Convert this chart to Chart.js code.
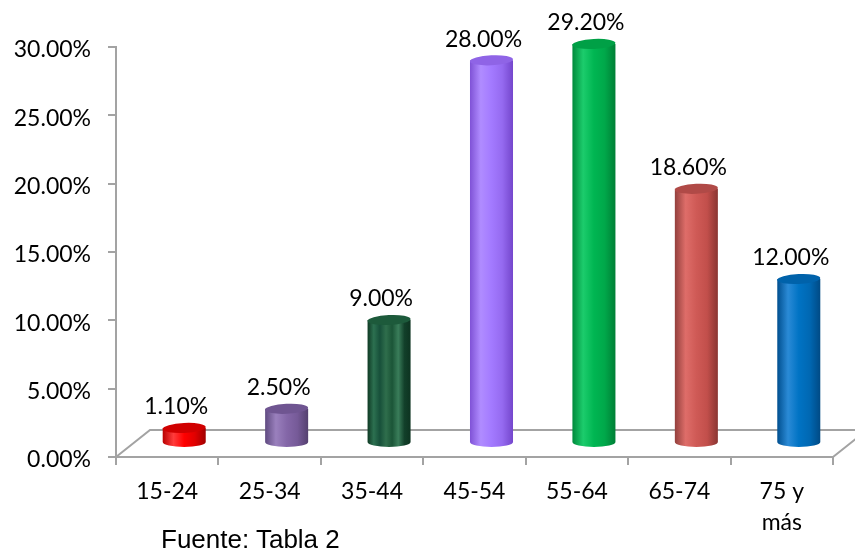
<!DOCTYPE html>
<html>
<head>
<meta charset="utf-8">
<script src="https://cdn.jsdelivr.net/npm/chart.js@4.4.1/dist/chart.umd.min.js"></script>
<style>
    html, body { margin: 0; padding: 0; background: #fff; }
    #wrap { position: relative; width: 855px; height: 550px; overflow: hidden; }
    #fuente {
        position: absolute; left: 161px; top: 526px;
        font-family: "Liberation Sans", Arial, sans-serif; font-size: 26px; line-height: 26px;
        color: #000; white-space: nowrap;
    }
</style>
</head>
<body>
<div id="wrap">
    <canvas id="chart" width="855" height="550"></canvas>
    <div id="fuente">Fuente: Tabla 2</div>
</div>
<script>
// Datos de la gráfica
const categories = ['15-24', '25-34', '35-44', '45-54', '55-64', '65-74', ['75 y', 'más']];
const percentages = [1.1, 2.5, 9.0, 28.0, 29.2, 18.6, 12.0];
const yMin = 0;
const yMax = 30;
const yStep = 5;

// Colores de cada cilindro: gradiente del cuerpo + tapa superior
const cylinderBodies = [
    ['#b80000', '#ff3b3b', '#ff0000', '#e00000', '#a00000'],
    ['#5f4a80', '#9a80bd', '#8467a8', '#765a98', '#54406f'],
    ['#0f3a24', '#2c7050', '#17503a', '#2f6e4c', '#1b5537', '#3a7d5a', '#12402a', '#0d3320'],
    ['#7f52d6', '#b08cff', '#a37aff', '#956af0', '#7446cc'],
    ['#008a3c', '#1ccc6c', '#00b652', '#00a84a', '#007f36'],
    ['#93403d', '#de6d69', '#cf5a56', '#c24f4b', '#8a3532'],
    ['#004f8f', '#2a8ad6', '#0073c4', '#0068b3', '#004a85']
];
const cylinderTops = ['#d00000', '#6f5591', '#1d5a3b', '#8f64e6', '#00a046', '#b04a47', '#0062aa'];

const DX = 17;   // desplazamiento 3D hacia la derecha
const DY = 14;   // desplazamiento 3D hacia arriba
const RY = 5;    // radio vertical de las elipses
const FONT_FAMILY = 'Lato, "Noto Sans", sans-serif';
const FONT_SIZE = 23;

const floorPlugin = {
    id: 'floor',
    beforeDatasetsDraw(chart) {
        const { ctx, chartArea } = chart;
        const l = chartArea.left, r = chartArea.right, b = chartArea.bottom;
        ctx.save();
        ctx.strokeStyle = '#a3a3a3';
        ctx.lineWidth = 2;
        ctx.beginPath();
        ctx.moveTo(l, b);
        ctx.lineTo(l + 34, b - 27);
        ctx.lineTo(r + 60, b - 27);
        ctx.moveTo(r, b);
        ctx.lineTo(r + 34, b - 27);
        ctx.stroke();
        ctx.restore();
    }
};

const cylinderPlugin = {
    id: 'cylinders',
    afterDatasetsDraw(chart) {
        const { ctx } = chart;
        const meta = chart.getDatasetMeta(0);
        meta.data.forEach((bar, i) => {
            const cx = bar.x + DX;
            const rx = bar.width / 2;
            const top = bar.y - DY;
            const bot = bar.base - DY;

            const grad = ctx.createLinearGradient(cx - rx, 0, cx + rx, 0);
            const stops = cylinderBodies[i];
            stops.forEach((c, k) => grad.addColorStop(k / (stops.length - 1), c));

            ctx.save();
            ctx.beginPath();
            ctx.moveTo(cx - rx, top);
            ctx.lineTo(cx - rx, bot);
            ctx.ellipse(cx, bot, rx, RY, 0, Math.PI, 0, true);
            ctx.lineTo(cx + rx, top);
            ctx.closePath();
            ctx.fillStyle = grad;
            ctx.fill();

            ctx.beginPath();
            ctx.ellipse(cx, top, rx, RY, -0.05, 0, Math.PI * 2);
            ctx.fillStyle = cylinderTops[i];
            ctx.fill();

            // etiqueta de valor
            ctx.fillStyle = '#000';
            ctx.font = FONT_SIZE + 'px ' + FONT_FAMILY;
            ctx.textAlign = 'center';
            ctx.textBaseline = 'middle';
            ctx.fillText(percentages[i].toFixed(2) + '%', bar.x + 9, top - RY - 16);
            ctx.restore();
        });
    }
};

new Chart(document.getElementById('chart'), {
    type: 'bar',
    data: {
        labels: categories,
        datasets: [{
            data: percentages,
            backgroundColor: 'rgba(0,0,0,0)',
            borderWidth: 0,
            categoryPercentage: 1,
            barPercentage: 0.42
        }]
    },
    options: {
        responsive: false,
        animation: false,
        devicePixelRatio: 1,
        layout: { padding: { top: 47, right: 22, left: 0, bottom: 0 } },
        plugins: {
            legend: { display: false },
            tooltip: { enabled: false }
        },
        scales: {
            x: {
                afterFit: s => { s.height = 93; },
                grid: { drawOnChartArea: false, color: '#a3a3a3', lineWidth: 2, tickLength: 8, offset: true },
                border: { color: '#a3a3a3', width: 2 },
                ticks: {
                    color: '#000',
                    font: { family: FONT_FAMILY, size: FONT_SIZE, lineHeight: 1.35 },
                    padding: 11,
                    maxRotation: 0
                }
            },
            y: {
                min: yMin,
                max: yMax,
                afterFit: s => { s.width = 116; },
                grid: { drawOnChartArea: false, color: '#a3a3a3', lineWidth: 2, tickLength: 8 },
                border: { color: '#a3a3a3', width: 2 },
                ticks: {
                    stepSize: yStep,
                    color: '#000',
                    font: { family: FONT_FAMILY, size: FONT_SIZE },
                    padding: 17,
                    labelOffset: 3,
                    callback: v => v.toFixed(2) + '%'
                }
            }
        }
    },
    plugins: [floorPlugin, cylinderPlugin]
});
</script>
</body>
</html>
